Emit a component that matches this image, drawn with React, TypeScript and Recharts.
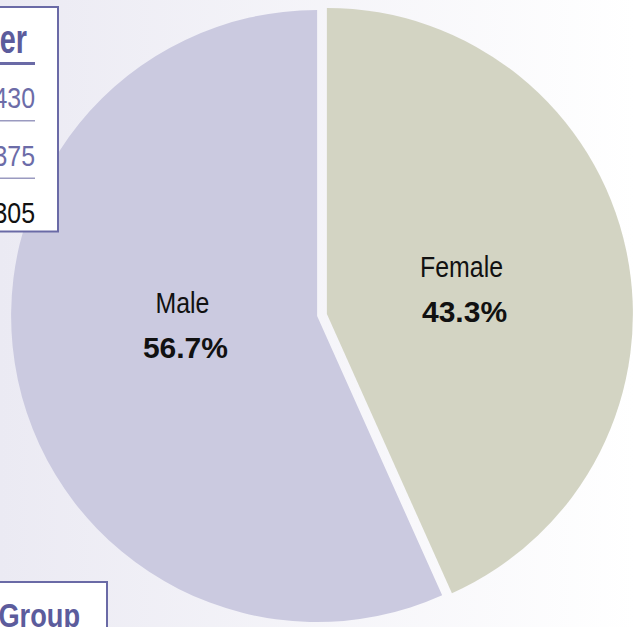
import { PieChart, Pie, Cell } from 'recharts'

// slices, clockwise from 12 o'clock
const SEGMENTS = ['Female', 'Male']
const SHARES = [43.3, 56.7]
const SLICE_COLORS = ['#D3D4C3', '#CBCAE0']

// partly visible side tables
const TABLE_HEADER = 'er'
const TABLE_VALUES = ['430', '375', '305']
const TABLE_VALUE_COLORS = ['#6C6CA8', '#6C6CA8', '#111111']
const GROUP_TITLE = 'Group'

const W = 635
const H = 627
const RADIUS = 306
const CENTER = { x: 322, y: 315 }
const EXPLODE = 5
const RADIAN = Math.PI / 180
const FONT = "'Liberation Sans', Arial, sans-serif"
const BORDER = '#6A6AA6'

const data = SEGMENTS.map((name, i) => ({ name, value: SHARES[i] }))

// each slice is pulled a little outward along its bisector
const total = SHARES.reduce((a, b) => a + b, 0)
let angle = 90
const offsets = SHARES.map(v => {
  const sweep = (v / total) * 360
  const mid = angle - sweep / 2
  angle -= sweep
  return { dx: EXPLODE * Math.cos(mid * RADIAN), dy: -EXPLODE * Math.sin(mid * RADIAN) }
})

function SliceLabel(props: any) {
  const { cx, cy, midAngle, outerRadius, name, percent } = props
  // labels sit on a flattened ellipse inside the slice
  const x = cx + outerRadius * 0.45 * Math.cos(-midAngle * RADIAN)
  const y = cy + outerRadius * 0.26 * Math.sin(-midAngle * RADIAN)
  return (
    <g fontFamily={FONT} fill="#111111">
      <text transform={`translate(${x},${y - 20}) scale(0.83,1)`} textAnchor="middle" fontSize={30}>
        {name}
      </text>
      <text x={x + 3} y={y + 25} textAnchor="middle" fontSize={30} fontWeight="bold">
        {(percent * 100).toFixed(1)}%
      </text>
    </g>
  )
}

export default function App() {
  return (
    <div
      style={{
        position: 'absolute',
        left: 0,
        top: 0,
        width: W,
        height: H,
        overflow: 'hidden',
        background: 'linear-gradient(to right, #EBEAF3, #FFFFFF)',
      }}
    >
      <PieChart width={W} height={H} margin={{ top: 0, right: 0, bottom: 0, left: 0 }}>
        {SEGMENTS.map((seg, i) => (
          <Pie
            key={seg}
            data={data}
            dataKey="value"
            nameKey="name"
            cx={CENTER.x + offsets[i].dx}
            cy={CENTER.y + offsets[i].dy}
            outerRadius={RADIUS}
            startAngle={90}
            endAngle={-270}
            stroke="none"
            labelLine={false}
            label={(p: any) => (p.index === i ? <SliceLabel {...p} /> : null)}
            isAnimationActive={false}
          >
            {data.map((d, j) => (
              <Cell key={d.name} fill={j === i ? SLICE_COLORS[j] : 'none'} stroke="none" />
            ))}
          </Pie>
        ))}
      </PieChart>

      <svg width={W} height={H} style={{ position: 'absolute', left: 0, top: 0 }} fontFamily={FONT}>
        {/* top-left table */}
        <rect x={-10} y={7} width={68} height={224.5} fill="#FFFFFF" stroke={BORDER} strokeWidth={2} />
        <text
          transform="translate(27,53) scale(0.72,1)"
          textAnchor="end"
          fontSize={40}
          fontWeight="bold"
          fill="#5C5C9C"
        >
          {TABLE_HEADER}
        </text>
        <line x1={0} x2={35} y1={63.5} y2={63.5} stroke={BORDER} strokeWidth={3} />
        {TABLE_VALUES.map((v, i) => (
          <g key={v}>
            <text
              transform={`translate(35,${108.3 + i * 57.2}) scale(0.83,1)`}
              textAnchor="end"
              fontSize={30}
              fill={TABLE_VALUE_COLORS[i]}
            >
              {v}
            </text>
            {i < TABLE_VALUES.length - 1 && (
              <line x1={0} x2={35} y1={120.7 + i * 57.6} y2={120.7 + i * 57.6} stroke="#9A9AC0" strokeWidth={1.5} />
            )}
          </g>
        ))}

        {/* bottom-left box */}
        <rect x={-10} y={582} width={117} height={60} fill="#FFFFFF" stroke={BORDER} strokeWidth={2} />
        <text
          transform="translate(80,627) scale(0.8,1)"
          textAnchor="end"
          fontSize={34}
          fontWeight="bold"
          fill="#5C5C9C"
        >
          {GROUP_TITLE}
        </text>
      </svg>
    </div>
  )
}
